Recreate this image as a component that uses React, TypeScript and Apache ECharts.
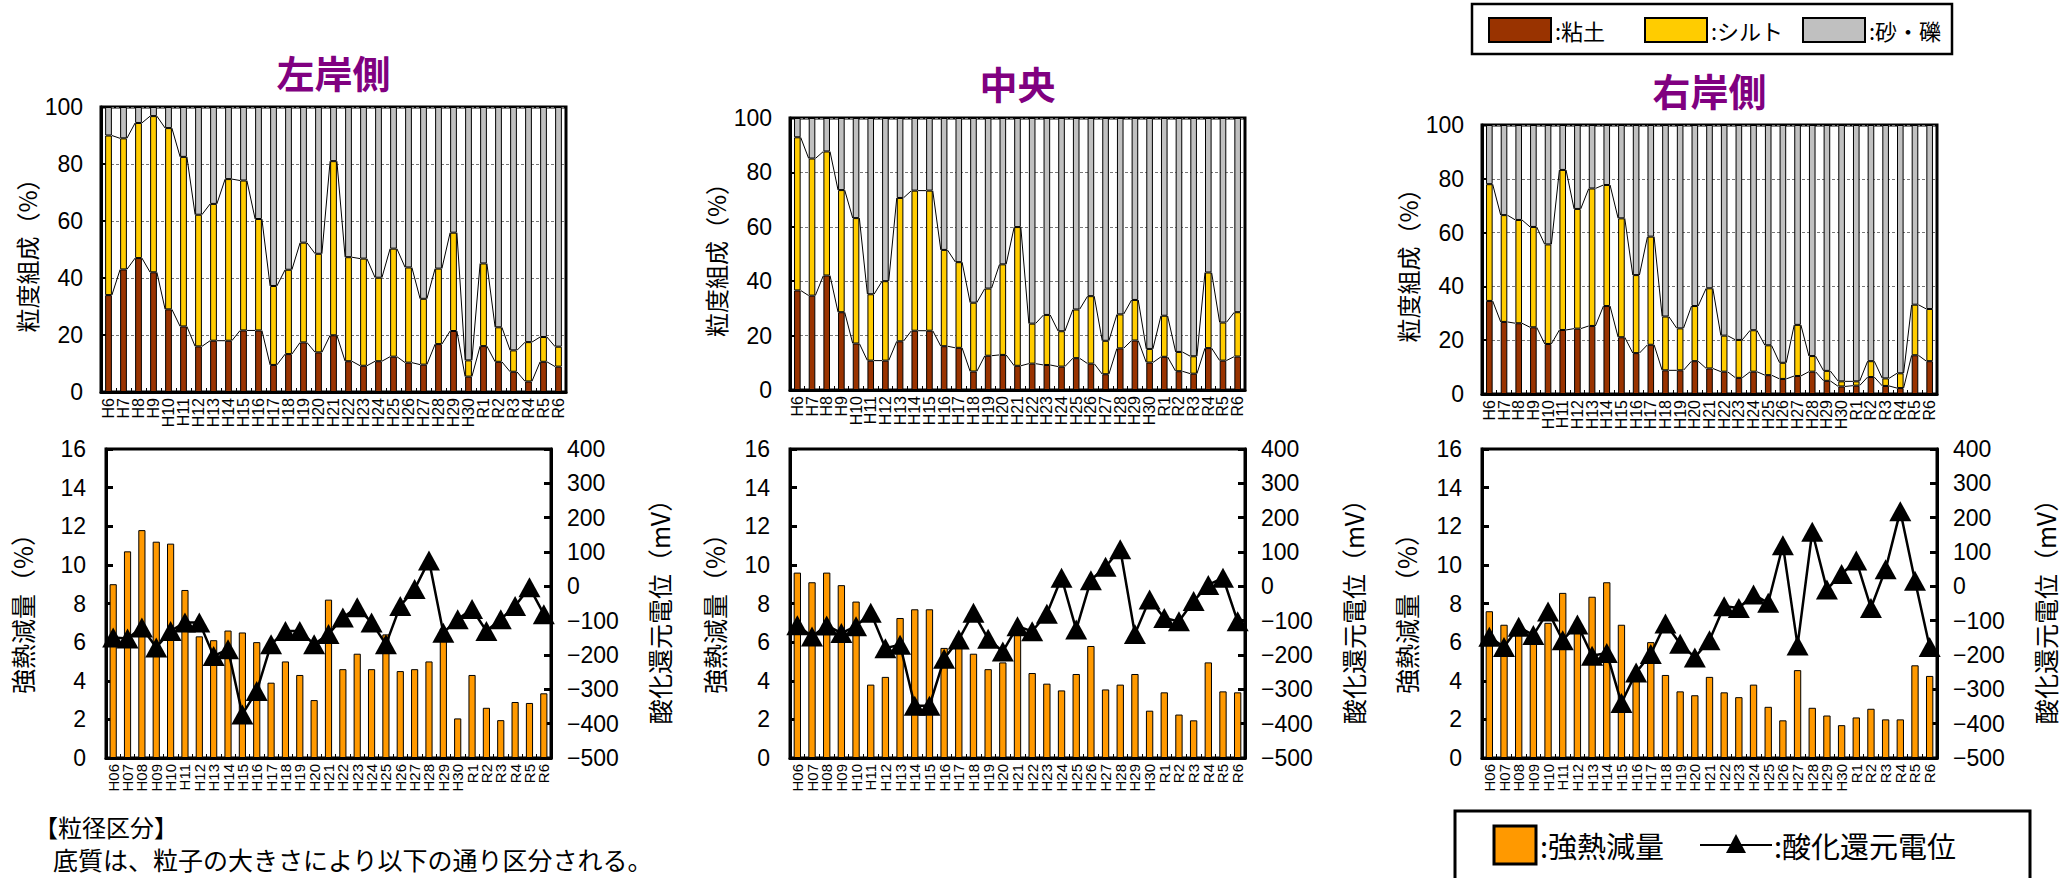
import React, { useEffect, useRef } from "react";
import * as echarts from "echarts";

// ---------- categories ----------
const catsTop = [
  "H6", "H7", "H8", "H9", "H10", "H11", "H12", "H13", "H14", "H15", "H16", "H17", "H18", "H19", "H20",
  "H21", "H22", "H23", "H24", "H25", "H26", "H27", "H28", "H29", "H30", "R1", "R2", "R3", "R4", "R5", "R6",
];
const catsBottom = [
  "H06", "H07", "H08", "H09", "H10", "H11", "H12", "H13", "H14", "H15", "H16", "H17", "H18", "H19", "H20",
  "H21", "H22", "H23", "H24", "H25", "H26", "H27", "H28", "H29", "H30", "R1", "R2", "R3", "R4", "R5", "R6",
];

// ---------- grain size composition (%) : clay / silt ; sand-gravel = remainder ----------
const leftClay = [34, 43, 47, 42, 29, 23, 16, 18, 18, 21.6, 21.6, 9.5, 13.3, 17.4, 13.9, 19.9, 10.8, 9.2, 10.8, 12.4, 10.3, 9.6, 16.8, 21.4, 5.4, 16.1, 10.6, 7.1, 3.7, 10.6, 8.9];
const leftSilt = [56, 46, 47.4, 54.8, 63.6, 59.5, 46.2, 48, 56.7, 52.6, 39.1, 27.7, 29.6, 35, 34.6, 61.1, 36.5, 37.6, 29.3, 37.9, 33.4, 23.1, 26.5, 34.5, 5.7, 29, 12.1, 7.5, 13.8, 8.7, 7];

const midClay = [36.6, 34.7, 42.1, 28.6, 17.1, 10.8, 10.8, 17.9, 21.8, 21.8, 16.1, 15.5, 6.8, 12.6, 12.9, 8.9, 9.7, 9.2, 8.6, 11.7, 9.7, 5.8, 15.3, 18.2, 10.1, 12.2, 6.9, 6.0, 15.4, 10.8, 12.3];
const midSilt = [56.3, 50.4, 45.6, 44.9, 46.1, 24.4, 29.2, 52.7, 51.5, 51.5, 35.4, 31.5, 25.3, 24.7, 33.3, 51, 14.7, 18.4, 13, 17.9, 24.8, 12.3, 12.5, 14.9, 5, 15.1, 7.1, 6.4, 27.8, 14, 16.3];

const rightClay = [34.6, 26.8, 26.3, 24.8, 18.6, 23.8, 24.3, 25.3, 32.7, 21.1, 15.2, 18.3, 8.8, 8.8, 12.2, 9.5, 8.3, 6.0, 8.3, 7.0, 5.6, 6.7, 8.3, 4.9, 2.8, 3.1, 6.3, 3.0, 2.2, 14.4, 12.2];
const rightSilt = [43.4, 39.7, 38.4, 37.3, 37, 59.5, 44.5, 51.1, 45, 44.2, 29, 40.2, 20, 15.6, 20.5, 29.8, 13.4, 14.1, 15.4, 11.1, 6, 19, 5.8, 3.7, 1.9, 1.6, 5.9, 2.8, 5.5, 18.8, 19.4];

// ---------- ignition loss (%) ----------
const leftIgn = [9.0, 10.7, 11.8, 11.2, 11.1, 8.7, 6.3, 6.1, 6.6, 6.5, 6.0, 3.9, 5.0, 4.3, 3.0, 8.2, 4.6, 5.4, 4.6, 6.4, 4.5, 4.6, 5.0, 6.7, 2.05, 4.3, 2.6, 1.96, 2.9, 2.85, 3.35];
const midIgn = [9.6, 9.1, 9.6, 8.95, 8.1, 3.8, 4.2, 7.25, 7.7, 7.7, 5.7, 5.8, 5.4, 4.6, 4.95, 6.5, 4.4, 3.85, 3.5, 4.35, 5.8, 3.55, 3.8, 4.35, 2.45, 3.4, 2.25, 1.95, 4.95, 3.45, 3.4];
const rightIgn = [7.6, 6.9, 6.5, 6.2, 7.0, 8.55, 6.6, 8.35, 9.1, 6.9, 4.0, 6.0, 4.3, 3.45, 3.25, 4.2, 3.4, 3.15, 3.8, 2.65, 1.95, 4.55, 2.6, 2.2, 1.7, 2.1, 2.55, 2.0, 2.0, 4.8, 4.25];

// ---------- ORP (mV) ----------
const leftOrp = [-149, -152, -120, -178, -130, -105, -105, -203, -183, -373, -305, -169, -130, -130, -169, -139, -91, -61, -105, -169, -57, -8, 75, -135, -96, -66, -130, -96, -57, -3, -81];
const midOrp = [-113, -146, -114, -136, -116, -77, -180, -170, -348, -348, -211, -155, -77, -153, -190, -116, -131, -80, 25, -126, 18, 57, 108, -139, -38, -92, -102, -43, 4, 25, -102];
const rightOrp = [-147, -177, -118, -142, -73, -157, -111, -202, -194, -340, -251, -197, -108, -167, -207, -157, -58, -63, -24, -48, 120, -172, 159, -9, 36, 75, -63, 50, 219, 16, -177];

// ---------- ticks / labels ----------
const pctTicks = { min: 0, max: 100, interval: 20 };
const ignTicks = { min: 0, max: 16, interval: 2 };
const orpTicks = { min: -500, max: 400, interval: 100 };

const titles = ["左岸側", "中央", "右岸側"];
const gsName = "粒度組成（%）";
const ignName = "強熱減量（%）";
const orpName = "酸化還元電位（mV）";
const gsLegend = [":粘土", ":シルト", ":砂・礫"];
const wqLegend = [":強熱減量", ":酸化還元電位"];
const noteTitle = "【粒径区分】";
const noteText = "底質は、粒子の大きさにより以下の通り区分される。";

// ---------- styles ----------
const JP = '"Noto Sans CJK JP", sans-serif';
const NUM = '"Liberation Sans Narrow", "Liberation Sans", "Noto Sans CJK JP", sans-serif';
const C_CLAY = "#993300";
const C_SILT = "#FFCC00";
const C_SAND = "#C0C0C0";
const C_IGN = "#FF9900";
const C_TITLE = "#800080";

const topGrids = [
  { left: 101, top: 107, width: 465, height: 285 },
  { left: 790, top: 118, width: 455, height: 272 },
  { left: 1482, top: 125, width: 455, height: 269 },
];
const botGrids = [
  { left: 106, top: 449, width: 445, height: 309 },
  { left: 790, top: 449, width: 455, height: 309 },
  { left: 1482, top: 449, width: 455, height: 309 },
];
const botNameOffset = [84, 76, 76];

const BAR_TOP = 0.45;

function seriesLinesData(vals: number[]) {
  const out: number[][] = [];
  for (let i = 0; i < vals.length - 1; i++) out.push([i, vals[i], vals[i + 1]]);
  return out;
}

function renderSeriesLine(params: any, api: any) {
  const i = api.value(0);
  const a = api.coord([i, api.value(1)]);
  const b = api.coord([i + 1, api.value(2)]);
  const half = (api.size([1, 0])[0] * BAR_TOP) / 2;
  return {
    type: "line",
    shape: { x1: a[0] + half, y1: a[1], x2: b[0] - half, y2: b[1] },
    style: { stroke: "#000", lineWidth: 1 },
  };
}

function buildOption() {
  const grids: any[] = [];
  const xAxes: any[] = [];
  const yAxes: any[] = [];
  const series: any[] = [];
  const graphic: any[] = [];

  const gsSets = [
    [leftClay, leftSilt],
    [midClay, midSilt],
    [rightClay, rightSilt],
  ];
  const wqSets = [
    [leftIgn, leftOrp],
    [midIgn, midOrp],
    [rightIgn, rightOrp],
  ];

  const gridBase = { show: true, borderColor: "#000", borderWidth: 3, backgroundColor: "#fff" };

  // top charts
  topGrids.forEach((g, k) => {
    grids.push({ ...gridBase, ...g });
    const xi = xAxes.length;
    xAxes.push({
      type: "category",
      gridIndex: grids.length - 1,
      data: catsTop,
      axisLine: { show: true, lineStyle: { color: "#000", width: 3 } },
      axisTick: { show: true, inside: true, length: 4, lineStyle: { color: "#000", width: 1 } },
      axisLabel: { rotate: 90, interval: 0, fontSize: 16, fontFamily: NUM, color: "#000", margin: 6 },
    });
    const yi = yAxes.length;
    yAxes.push({
      type: "value",
      gridIndex: grids.length - 1,
      ...pctTicks,
      axisLine: { show: true, lineStyle: { color: "#000", width: 3 } },
      axisTick: { show: true, inside: true, length: 6, lineStyle: { color: "#000", width: 2 } },
      axisLabel: { fontSize: 23, fontFamily: NUM, color: "#000", margin: 18 },
      splitLine: { show: true, lineStyle: { color: "#777", type: [3, 2], width: 1 } },
    });
    const [clay, silt] = gsSets[k];
    const sand = clay.map((c, i) => +(100 - c - silt[i]).toFixed(1));
    const cum = clay.map((c, i) => c + silt[i]);
    const barCommon = {
      type: "bar",
      xAxisIndex: xi,
      yAxisIndex: yi,
      stack: "gs" + k,
      barWidth: BAR_TOP * 100 + "%",
    };
    series.push({ ...barCommon, name: "粘土", data: clay, itemStyle: { color: C_CLAY, borderColor: "#000", borderWidth: 1 } });
    series.push({ ...barCommon, name: "シルト", data: silt, itemStyle: { color: C_SILT, borderColor: "#000", borderWidth: 1 } });
    series.push({ ...barCommon, name: "砂・礫", data: sand, itemStyle: { color: C_SAND, borderColor: "#000", borderWidth: 1 } });
    [clay, cum].forEach((v) => {
      series.push({
        type: "custom",
        xAxisIndex: xi,
        yAxisIndex: yi,
        renderItem: renderSeriesLine,
        data: seriesLinesData(v),
        z: 5,
        silent: true,
      });
    });
    graphic.push({
      type: "text",
      x: g.left + g.width / 2,
      y: g.top - 36,
      style: { text: titles[k], fontSize: 38, fontWeight: "bold", fontFamily: JP, fill: C_TITLE, align: "center", verticalAlign: "middle" },
    });
    graphic.push({
      type: "text",
      x: g.left - 75,
      y: g.top + g.height / 2,
      rotation: Math.PI / 2,
      style: { text: gsName, fontSize: 24, fontFamily: JP, fill: "#000", align: "center", verticalAlign: "middle" },
    });
  });

  // bottom charts
  botGrids.forEach((g, k) => {
    grids.push({ ...gridBase, ...g });
    const gi = grids.length - 1;
    const xi = xAxes.length;
    xAxes.push({
      type: "category",
      gridIndex: gi,
      data: catsBottom,
      axisLine: { show: true, lineStyle: { color: "#000", width: 3 } },
      axisTick: { show: true, inside: true, length: 4, lineStyle: { color: "#000", width: 1 } },
      axisLabel: { rotate: 90, interval: 0, fontSize: 15, fontFamily: NUM, color: "#000", margin: 6 },
    });
    const yl = yAxes.length;
    yAxes.push({
      type: "value",
      gridIndex: gi,
      position: "left",
      ...ignTicks,
      axisLine: { show: true, lineStyle: { color: "#000", width: 3 } },
      axisTick: { show: true, inside: true, length: 7, lineStyle: { color: "#000", width: 3 } },
      axisLabel: { fontSize: 23, fontFamily: NUM, color: "#000", margin: 20 },
      splitLine: { show: false },
    });
    const yr = yAxes.length;
    yAxes.push({
      type: "value",
      gridIndex: gi,
      position: "right",
      ...orpTicks,
      axisLine: { show: true, lineStyle: { color: "#000", width: 3 } },
      axisTick: { show: true, inside: true, length: 7, lineStyle: { color: "#000", width: 3 } },
      axisLabel: {
        fontSize: 23,
        fontFamily: NUM,
        color: "#000",
        margin: 16,
        formatter: (v: number) => String(v).replace("-", "−"),
      },
      splitLine: { show: false },
    });
    const [ign, orp] = wqSets[k];
    series.push({
      type: "bar",
      name: "強熱減量",
      xAxisIndex: xi,
      yAxisIndex: yl,
      data: ign,
      barWidth: "50%",
      itemStyle: { color: C_IGN, borderColor: "#000", borderWidth: 1 },
    });
    series.push({
      type: "line",
      name: "酸化還元電位",
      xAxisIndex: xi,
      yAxisIndex: yr,
      data: orp,
      symbol: "triangle",
      symbolSize: [22, 20],
      itemStyle: { color: "#000" },
      lineStyle: { color: "#000", width: 2.5 },
      z: 6,
    });
    graphic.push({
      type: "text",
      x: g.left - botNameOffset[k],
      y: g.top + g.height / 2 + 4,
      rotation: Math.PI / 2,
      style: { text: ignName, fontSize: 25, fontFamily: JP, fill: "#000", align: "center", verticalAlign: "middle" },
    });
    graphic.push({
      type: "text",
      x: g.left + g.width + 108,
      y: g.top + g.height / 2 + 2,
      rotation: Math.PI / 2,
      style: { text: orpName, fontSize: 25, fontFamily: JP, fill: "#000", align: "center", verticalAlign: "middle" },
    });
  });

  // top legend
  graphic.push({ type: "rect", shape: { x: 1472, y: 4, width: 480, height: 50 }, style: { fill: "#fff", stroke: "#000", lineWidth: 2.5 }, z: 10 });
  const lgX = [1489, 1645, 1803];
  const lgC = [C_CLAY, C_SILT, C_SAND];
  lgX.forEach((x, i) => {
    graphic.push({ type: "rect", shape: { x, y: 18, width: 62, height: 24 }, style: { fill: lgC[i], stroke: "#000", lineWidth: 2 }, z: 11 });
    graphic.push({
      type: "text",
      x: x + 66,
      y: 30,
      style: { text: gsLegend[i], fontSize: 22, fontFamily: JP, fill: "#000", align: "left", verticalAlign: "middle" },
      z: 11,
    });
  });

  // bottom legend
  graphic.push({ type: "rect", shape: { x: 1455, y: 811, width: 575, height: 90 }, style: { fill: "#fff", stroke: "#000", lineWidth: 3 }, z: 10 });
  graphic.push({ type: "rect", shape: { x: 1494, y: 826, width: 42, height: 38 }, style: { fill: C_IGN, stroke: "#000", lineWidth: 3 }, z: 11 });
  graphic.push({
    type: "text",
    x: 1540,
    y: 845,
    style: { text: wqLegend[0], fontSize: 29, fontFamily: JP, fill: "#000", align: "left", verticalAlign: "middle" },
    z: 11,
  });
  graphic.push({ type: "line", shape: { x1: 1700, y1: 845, x2: 1772, y2: 845 }, style: { stroke: "#000", lineWidth: 2 }, z: 11 });
  graphic.push({ type: "polygon", shape: { points: [[1736, 834], [1726, 853], [1746, 853]] }, style: { fill: "#000" }, z: 12 });
  graphic.push({
    type: "text",
    x: 1774,
    y: 845,
    style: { text: wqLegend[1], fontSize: 29, fontFamily: JP, fill: "#000", align: "left", verticalAlign: "middle" },
    z: 11,
  });

  // note text
  graphic.push({
    type: "text",
    x: 34,
    y: 826,
    style: { text: noteTitle, fontSize: 24, fontFamily: JP, fill: "#000", align: "left", verticalAlign: "middle" },
  });
  graphic.push({
    type: "text",
    x: 53,
    y: 859,
    style: { text: noteText, fontSize: 25, fontFamily: JP, fill: "#000", align: "left", verticalAlign: "middle" },
  });

  return {
    animation: false,
    backgroundColor: "#fff",
    grid: grids,
    xAxis: xAxes,
    yAxis: yAxes,
    series,
    graphic,
  };
}

export default function App() {
  const ref = useRef<HTMLDivElement>(null);
  useEffect(() => {
    if (!ref.current) return;
    const chart = echarts.init(ref.current, undefined, { renderer: "svg" });
    chart.setOption(buildOption() as any);
    return () => chart.dispose();
  }, []);
  return (
    <div
      ref={ref}
      style={{ position: "fixed", left: 0, top: 0, width: 2064, height: 878, background: "#fff" }}
    />
  );
}
